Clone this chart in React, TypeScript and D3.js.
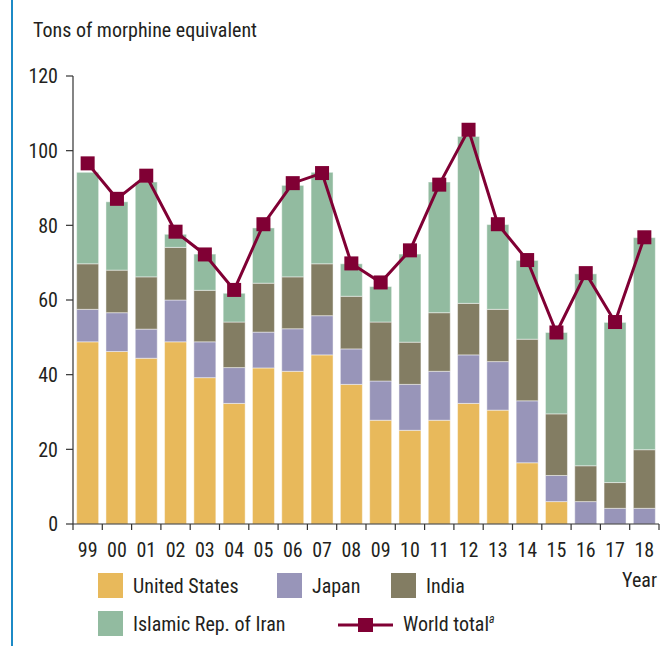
import React from "react";
import * as d3 from "d3";

const years = ["99","00","01","02","03","04","05","06","07","08","09","10","11","12","13","14","15","16","17","18"];
// cumulative tops
const usTop = [48.8,46.2,44.4,48.8,39.2,32.3,41.8,40.9,45.3,37.4,27.8,25.1,27.8,32.3,30.5,16.4,6.0,0,0,0];
const japanTop = [57.5,56.6,52.2,60.0,48.8,41.9,51.4,52.3,55.8,46.9,38.3,37.4,40.9,45.3,43.5,33.0,13.0,6.0,4.2,4.2];
const indiaTop = [69.7,68.0,66.2,74.1,62.6,54.1,64.5,66.2,69.7,61.0,54.1,48.7,56.6,59.1,57.5,49.5,29.5,15.6,11.1,19.9];
const iranTop = [94.2,86.3,91.6,77.6,72.3,61.8,79.3,90.7,94.2,69.7,63.6,72.3,91.6,103.8,80.2,70.6,51.3,67.0,54.0,76.7];
const worldTotal = [96.6,87.1,93.3,78.3,72.2,62.7,80.3,91.3,94.0,69.8,64.7,73.3,90.9,105.6,80.3,70.7,51.3,67.2,54.1,76.8];
const yTicks = [0,20,40,60,80,100,120];

const seriesNames = ["United States","Japan","India","Islamic Rep. of Iran"];
const seriesColors = ["#E8B95B","#9895B9","#837D63","#92BBA0"];
const lineColor = "#800034";
const FONT = "'Liberation Sans Narrow','Roboto Condensed','DejaVu Sans Condensed',Roboto,sans-serif";
const FS = 20;

export default function App() {
  const W = 662, H = 646;
  const x = d3.scaleBand<string>().domain(years).range([73, 659]).paddingInner(0.25).paddingOuter(0.125);
  const y = d3.scaleLinear().domain([0, 120]).range([524, 76]);
  const step = x.step();
  const x0 = 73;
  const tops = [usTop, japanTop, indiaTop, iranTop];
  const line = d3.line<number>().x((_, i) => (x(years[i]) as number) + x.bandwidth() / 2).y(d => y(d));

  return (
    <svg width={W} height={H} style={{ position: "absolute", left: 0, top: 0, background: "#fff" }} fontFamily={FONT}>
      <line x1={12} x2={12} y1={0} y2={646} stroke="#1C8AC6" strokeWidth={2} />
      <text x={33} y={36.5} fontSize={FS} fill="#231F20">Tons of morphine equivalent</text>
      {/* bars */}
      {years.map((yr, i) => (
        <g key={yr}>
          {tops.map((t, s) => {
            const lo = s === 0 ? 0 : tops[s - 1][i];
            const hi = t[i];
            if (hi - lo <= 0) return null;
            return (
              <rect key={s} x={x(yr)} width={x.bandwidth()} y={y(hi)} height={y(lo) - y(hi)}
                fill={seriesColors[s]} stroke="rgba(255,255,255,0.45)" strokeWidth={1} />
            );
          })}
        </g>
      ))}
      {/* axes */}
      <line x1={73} x2={73} y1={76} y2={524} stroke="#333" strokeWidth={1.2} />
      <line x1={73} x2={659} y1={524} y2={524} stroke="#333" strokeWidth={1.2} />
      {yTicks.map(t => (
        <g key={t}>
          <line x1={66} x2={73} y1={y(t)} y2={y(t)} stroke="#333" strokeWidth={1.2} />
          <text x={58} y={y(t)} dy="0.36em" textAnchor="end" fontSize={FS} fill="#231F20">{t}</text>
        </g>
      ))}
      {d3.range(years.length + 1).map(i => (
        <line key={i} x1={x0 + i * step} x2={x0 + i * step} y1={524} y2={530} stroke="#333" strokeWidth={1.2} />
      ))}
      {years.map(yr => (
        <text key={yr} x={(x(yr) as number) + x.bandwidth() / 2} y={557} textAnchor="middle" fontSize={FS} fill="#231F20">{yr}</text>
      ))}
      <text x={657} y={587} textAnchor="end" fontSize={FS} fill="#231F20">Year</text>
      {/* world total */}
      <path d={line(worldTotal) || ""} fill="none" stroke={lineColor} strokeWidth={3} />
      {worldTotal.map((v, i) => (
        <rect key={i} x={(x(years[i]) as number) + x.bandwidth() / 2 - 7} y={y(v) - 7} width={14} height={14} fill={lineColor} />
      ))}
      {/* legend */}
      {[0, 1, 2].map(s => {
        const lx = [98, 277, 391][s];
        return (
          <g key={s}>
            <rect x={lx} y={573} width={25} height={25} fill={seriesColors[s]} />
            <text x={lx + 35} y={593} fontSize={FS} fill="#231F20">{seriesNames[s]}</text>
          </g>
        );
      })}
      <rect x={98} y={611} width={25} height={25} fill={seriesColors[3]} />
      <text x={133} y={631} fontSize={FS} fill="#231F20">{seriesNames[3]}</text>
      <line x1={338} x2={393} y1={625} y2={625} stroke={lineColor} strokeWidth={3} />
      <rect x={358} y={618} width={15} height={14} fill={lineColor} />
      <text x={403} y={631} fontSize={FS} fill="#231F20">World total<tspan fontSize={12} fontStyle="italic" dy={-8}>a</tspan></text>
    </svg>
  );
}
